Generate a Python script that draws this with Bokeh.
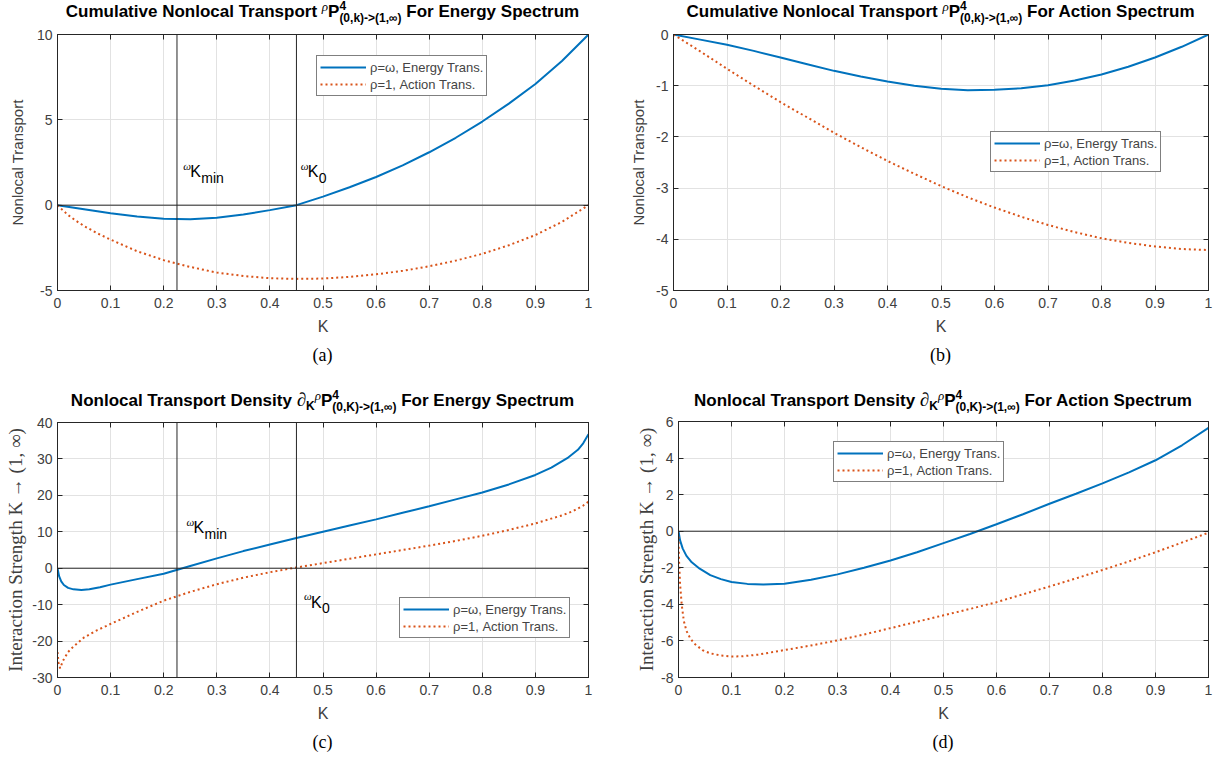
from bokeh.plotting import figure
from bokeh.models import (Label, Legend, LegendItem, LinearAxis, FixedTicker,
                          CustomJSTickFormatter, Span, Range1d, Div)
from bokeh.layouts import row, column
from bokeh.embed import file_html
from bokeh.resources import INLINE

# ---------------- data ----------------
X_TICKS = [0, 0.1, 0.2, 0.3, 0.4, 0.5, 0.6, 0.7, 0.8, 0.9, 1]

# (a) cumulative transport, energy spectrum
A_K_BLUE = [0, 0.05, 0.1, 0.15, 0.2, 0.25, 0.3, 0.35, 0.4, 0.45, 0.5,
            0.55, 0.6, 0.65, 0.7, 0.75, 0.8, 0.85, 0.9, 0.95, 1.0]
A_BLUE = [0, -0.24, -0.48, -0.67, -0.8, -0.83, -0.74, -0.55, -0.29, 0, 0.5,
          1.05, 1.65, 2.33, 3.1, 3.95, 4.9, 5.95, 7.1, 8.45, 10.0]
A_K_ORANGE = [0, 0.01, 0.02, 0.035, 0.05, 0.075, 0.1, 0.15, 0.2, 0.25, 0.3, 0.35,
              0.4, 0.45, 0.5, 0.55, 0.6, 0.65, 0.7, 0.75, 0.8, 0.85, 0.9, 0.95, 1.0]
A_ORANGE = [0, -0.3, -0.58, -0.92, -1.22, -1.65, -2.02, -2.7, -3.22, -3.62, -3.95, -4.15,
            -4.28, -4.32, -4.3, -4.2, -4.05, -3.85, -3.58, -3.25, -2.85, -2.35, -1.75, -0.98, 0]
A_YTICKS = [-5, 0, 5, 10]

# (b) cumulative transport, action spectrum
B_K = [0, 0.05, 0.1, 0.15, 0.2, 0.25, 0.3, 0.35, 0.4, 0.45, 0.5,
       0.55, 0.6, 0.65, 0.7, 0.75, 0.8, 0.85, 0.9, 0.95, 1.0]
B_BLUE = [0, -0.1, -0.2, -0.32, -0.45, -0.58, -0.71, -0.82, -0.92, -1.0, -1.06,
          -1.09, -1.08, -1.05, -0.99, -0.9, -0.78, -0.63, -0.45, -0.24, 0]
B_ORANGE = [0, -0.33, -0.67, -1.0, -1.32, -1.62, -1.92, -2.2, -2.47, -2.72, -2.96,
            -3.18, -3.38, -3.56, -3.72, -3.86, -3.98, -4.07, -4.14, -4.19, -4.21]
B_YTICKS = [-5, -4, -3, -2, -1, 0]

# (c) transport density, energy spectrum
C_K_BLUE = [0, 0.003, 0.007, 0.012, 0.02, 0.03, 0.045, 0.06, 0.08, 0.1, 0.15, 0.2,
            0.25, 0.3, 0.35, 0.4, 0.45, 0.5, 0.55, 0.6, 0.65, 0.7, 0.75, 0.8, 0.85,
            0.9, 0.93, 0.96, 0.98, 0.99, 1.0]
C_BLUE = [0, -2.2, -3.6, -4.6, -5.4, -5.8, -5.95, -5.8, -5.2, -4.5, -3.0, -1.5,
          0.6, 2.7, 4.7, 6.5, 8.3, 10.0, 11.7, 13.4, 15.2, 17.0, 18.9, 20.8, 23.0,
          25.6, 27.6, 30.2, 32.5, 34.3, 36.8]
C_K_ORANGE = [0, 0.002, 0.005, 0.01, 0.02, 0.03, 0.05, 0.075, 0.1, 0.15, 0.2, 0.25,
              0.3, 0.35, 0.4, 0.45, 0.5, 0.55, 0.6, 0.65, 0.7, 0.75, 0.8, 0.85, 0.9,
              0.95, 0.97, 0.99, 1.0]
C_ORANGE = [-23, -26, -27.5, -25.5, -23, -21.5, -19, -17, -15.3, -12, -8.9, -6.5,
            -4.4, -2.6, -1.1, 0.2, 1.4, 2.6, 3.8, 5.0, 6.2, 7.5, 8.9, 10.5, 12.3,
            14.5, 15.6, 17.2, 18.3]
C_YTICKS = [-30, -20, -10, 0, 10, 20, 30, 40]

# (d) transport density, action spectrum
D_K_BLUE = [0, 0.003, 0.008, 0.015, 0.025, 0.04, 0.06, 0.08, 0.1, 0.13, 0.16, 0.2,
            0.25, 0.3, 0.35, 0.4, 0.45, 0.5, 0.55, 0.6, 0.65, 0.7, 0.75, 0.8, 0.85,
            0.9, 0.95, 1.0]
D_BLUE = [0, -0.5, -0.95, -1.35, -1.7, -2.05, -2.4, -2.62, -2.78, -2.88, -2.92, -2.87,
          -2.65, -2.36, -2.0, -1.6, -1.15, -0.65, -0.15, 0.38, 0.93, 1.5, 2.05, 2.62, 3.22,
          3.88, 4.7, 5.65]
D_K_ORANGE = [0, 0.001, 0.003, 0.006, 0.01, 0.015, 0.022, 0.03, 0.045, 0.06, 0.08, 0.1,
              0.12, 0.15, 0.2, 0.25, 0.3, 0.35, 0.4, 0.45, 0.5, 0.55, 0.6, 0.65, 0.7,
              0.75, 0.8, 0.85, 0.9, 0.95, 1.0]
D_ORANGE = [-0.3, -1.6, -2.9, -4.0, -4.9, -5.45, -5.85, -6.15, -6.5, -6.68, -6.8, -6.85,
            -6.84, -6.75, -6.5, -6.25, -5.97, -5.65, -5.3, -4.95, -4.6, -4.25, -3.88, -3.45, -3.02,
            -2.58, -2.12, -1.65, -1.15, -0.62, -0.08]
D_YTICKS = [-8, -6, -4, -2, 0, 2, 4, 6]

K_MIN = 0.225
K_ZERO = 0.45

LEGEND_LABELS = ["\u03c1=\u03c9, Energy Trans.", "\u03c1=1, Action Trans."]

# ---------------- style ----------------
BLUE = "#0072BD"
ORANGE = "#D95319"
AX = "#262626"
TICKC = "#404040"
SANS = "Liberation Sans"
SERIF = "Liberation Serif"


def make_fig(w, h, bl, br, bt, bb, yr, yticks, ylabel, yfont, ysize, ystand):
    p = figure(width=w, height=h, min_border_left=bl, min_border_right=br,
               min_border_top=bt, min_border_bottom=bb,
               x_range=Range1d(0, 1), y_range=Range1d(*yr),
               output_backend="svg", toolbar_location=None)
    p.outline_line_color = AX
    p.background_fill_color = "white"
    p.border_fill_color = "white"
    fmt = CustomJSTickFormatter(code="return String(Math.round(tick*1000)/1000);")
    p.xaxis.ticker = FixedTicker(ticks=X_TICKS)
    p.yaxis.ticker = FixedTicker(ticks=yticks)
    p.xaxis.formatter = fmt
    p.yaxis.formatter = fmt
    for ax in list(p.xaxis) + list(p.yaxis):
        ax.axis_line_color = AX
        ax.major_tick_line_color = AX
        ax.major_tick_in = 5
        ax.major_tick_out = 0
        ax.minor_tick_line_color = None
        ax.major_label_text_font = SANS
        ax.major_label_text_font_size = "14px"
        ax.major_label_text_color = TICKC
        ax.axis_label_text_font_style = "normal"
        ax.axis_label_text_color = TICKC
    p.xaxis.major_label_standoff = 7
    p.xaxis.axis_label = "K"
    p.xaxis.axis_label_text_font = SANS
    p.xaxis.axis_label_text_font_size = "16px"
    p.xaxis.axis_label_standoff = 7
    p.yaxis.major_label_standoff = 5
    p.yaxis.axis_label = ylabel
    p.yaxis.axis_label_text_font = yfont
    p.yaxis.axis_label_text_font_size = ysize
    p.yaxis.axis_label_standoff = ystand
    p.xgrid.ticker = FixedTicker(ticks=X_TICKS)
    p.ygrid.ticker = FixedTicker(ticks=yticks)
    p.xgrid.grid_line_color = "#e2e2e2"
    p.ygrid.grid_line_color = "#e2e2e2"
    blank = CustomJSTickFormatter(code="return '';")
    top = LinearAxis(ticker=FixedTicker(ticks=X_TICKS), formatter=blank,
                     major_label_text_font_size="0px", major_label_standoff=0,
                     major_tick_in=5, major_tick_out=0, minor_tick_line_color=None,
                     axis_line_color=AX, major_tick_line_color=AX)
    right = LinearAxis(ticker=FixedTicker(ticks=yticks), formatter=blank,
                       major_label_text_font_size="0px", major_label_standoff=0,
                       major_tick_in=5, major_tick_out=0, minor_tick_line_color=None,
                       axis_line_color=AX, major_tick_line_color=AX)
    p.add_layout(top, "above")
    p.add_layout(right, "right")
    return p


def lbl(p, text, x, y, font=SANS, size=17, style="normal", xoff=0, yoff=0):
    p.add_layout(Label(x=x, y=y, text=text, x_offset=xoff, y_offset=yoff,
                       text_font=font, text_font_size=f"{size}px", text_font_style=style,
                       text_align="left", text_baseline="alphabetic", text_color="black"))


def add_lines(p, kb, yb, ko, yo, loc):
    r1 = p.line(kb, yb, line_color=BLUE, line_width=2)
    r2 = p.line(ko, yo, line_color=ORANGE, line_width=2, line_dash="2 3")
    leg = Legend(items=[LegendItem(label=LEGEND_LABELS[0], renderers=[r1]),
                        LegendItem(label=LEGEND_LABELS[1], renderers=[r2])],
                 location=loc, border_line_color="black", border_line_width=1,
                 background_fill_color="white", background_fill_alpha=1,
                 label_text_font=SANS, label_text_font_size="13px",
                 glyph_width=46, glyph_height=16, label_height=16, spacing=1,
                 padding=3, margin=0, label_standoff=4)
    p.add_layout(leg)


def kmark(p, x, y, sub):
    lbl(p, "\u03c9", x, y, font=SERIF, size=11, style="italic", yoff=6)
    lbl(p, "K", x, y, size=16, xoff=7)
    lbl(p, sub, x, y, size=14, xoff=18, yoff=-6)


def title_div(width, height, bl, fw, pad, first, rest, sub, deriv=False):
    d = ""
    if deriv:
        d = ("<span style=\"font-family:'Liberation Serif';font-style:italic;font-weight:normal;"
             "font-size:19px;\">&#8706;</span>"
             "<span style=\"font-size:12px;position:relative;top:4px;\">K</span>")
    html = (f"<div style=\"margin-left:{bl}px;width:{fw}px;padding-top:{pad}px;text-align:center;"
            "font-family:'Liberation Sans';font-weight:bold;font-size:17px;color:#000;"
            "white-space:nowrap;line-height:17px;\">"
            f"{first} {d}"
            "<span style=\"font-family:'Liberation Serif';font-style:italic;font-weight:normal;"
            "font-size:13px;position:relative;top:-6px;\">&#961;</span>P"
            "<span style=\"display:inline-block;width:0;font-size:12px;position:relative;"
            "top:-7px;\">4</span>"
            f"<span style=\"font-size:12px;position:relative;top:5px;\">{sub}</span> {rest}</div>")
    return Div(text=html, width=width, height=height, margin=(0, 0, 0, 0))


def caption_div(width, height, bl, fw, text):
    html = (f"<div style=\"margin-left:{bl}px;width:{fw}px;text-align:center;"
            "font-family:'Liberation Serif';font-size:18px;color:#000;"
            f"line-height:30px;\">{text}</div>")
    return Div(text=html, width=width, height=height, margin=(0, 0, 0, 0))


SUB_LOWER = "(0,k)-&gt;(1,&#8734;)"
SUB_UPPER = "(0,K)-&gt;(1,&#8734;)"
YLAB_DENS = "Interaction Strength K \u2192 (1, \u221e)"

# ---------------- (a) ----------------
pa = make_fig(610, 315, 57, 22, 9, 50, (-5, 10), A_YTICKS, "Nonlocal Transport", SANS, "15px", 8)
for loc in (K_MIN, K_ZERO):
    pa.add_layout(Span(location=loc, dimension="height", line_color=AX, line_width=1))
pa.add_layout(Span(location=0, dimension="width", line_color=AX, line_width=1))
add_lines(pa, A_K_BLUE, A_BLUE, A_K_ORANGE, A_ORANGE, (259, 194))
kmark(pa, K_MIN + 0.012, 1.95, "min")
kmark(pa, K_ZERO + 0.008, 1.95, "0")
ta = title_div(610, 25, 57, 531, 3, "Cumulative Nonlocal Transport", "For Energy Spectrum", SUB_LOWER)
ca = caption_div(610, 44, 57, 531, "(a)")

# ---------------- (b) ----------------
pb = make_fig(611, 315, 63, 13, 9, 50, (-5, 0), B_YTICKS, "Nonlocal Transport", SANS, "15px", 6)
pb.add_layout(Span(location=0, dimension="width", line_color=AX, line_width=1))
add_lines(pb, B_K, B_BLUE, B_K, B_ORANGE, (317, 118))
tb = title_div(611, 25, 63, 535, 3, "Cumulative Nonlocal Transport", "For Action Spectrum", SUB_LOWER)
cb = caption_div(611, 44, 63, 535, "(b)")

# ---------------- (c) ----------------
pc = make_fig(610, 314, 57, 22, 9, 50, (-30, 40), C_YTICKS, YLAB_DENS, SERIF, "19px", 3)
for loc in (K_MIN, K_ZERO):
    pc.add_layout(Span(location=loc, dimension="height", line_color=AX, line_width=1))
pc.add_layout(Span(location=0, dimension="width", line_color=AX, line_width=1))
add_lines(pc, C_K_BLUE, C_BLUE, C_K_ORANGE, C_ORANGE, (342, 39))
kmark(pc, K_MIN + 0.018, 11.1, "min")
kmark(pc, K_ZERO + 0.014, -9.4, "0")
tc = title_div(610, 29, 57, 531, 7, "Nonlocal Transport Density", "For Energy Spectrum", SUB_UPPER, deriv=True)
cc = caption_div(610, 43, 57, 531, "(c)")

# ---------------- (d) ----------------
pd_ = make_fig(611, 314, 68, 13, 8, 50, (-8, 6), D_YTICKS, YLAB_DENS, SERIF, "19px", 1)
pd_.add_layout(Span(location=0, dimension="width", line_color=AX, line_width=1))
add_lines(pd_, D_K_BLUE, D_BLUE, D_K_ORANGE, D_ORANGE, (155, 195))
td = title_div(611, 29, 68, 530, 7, "Nonlocal Transport Density", "For Action Spectrum", SUB_UPPER, deriv=True)
cd = caption_div(611, 43, 68, 530, "(d)")

layout = column(row(column(ta, pa, ca), column(tb, pb, cb)),
                row(column(tc, pc, cc), column(td, pd_, cd)))
open("out.html", "w").write(file_html(layout, INLINE))
